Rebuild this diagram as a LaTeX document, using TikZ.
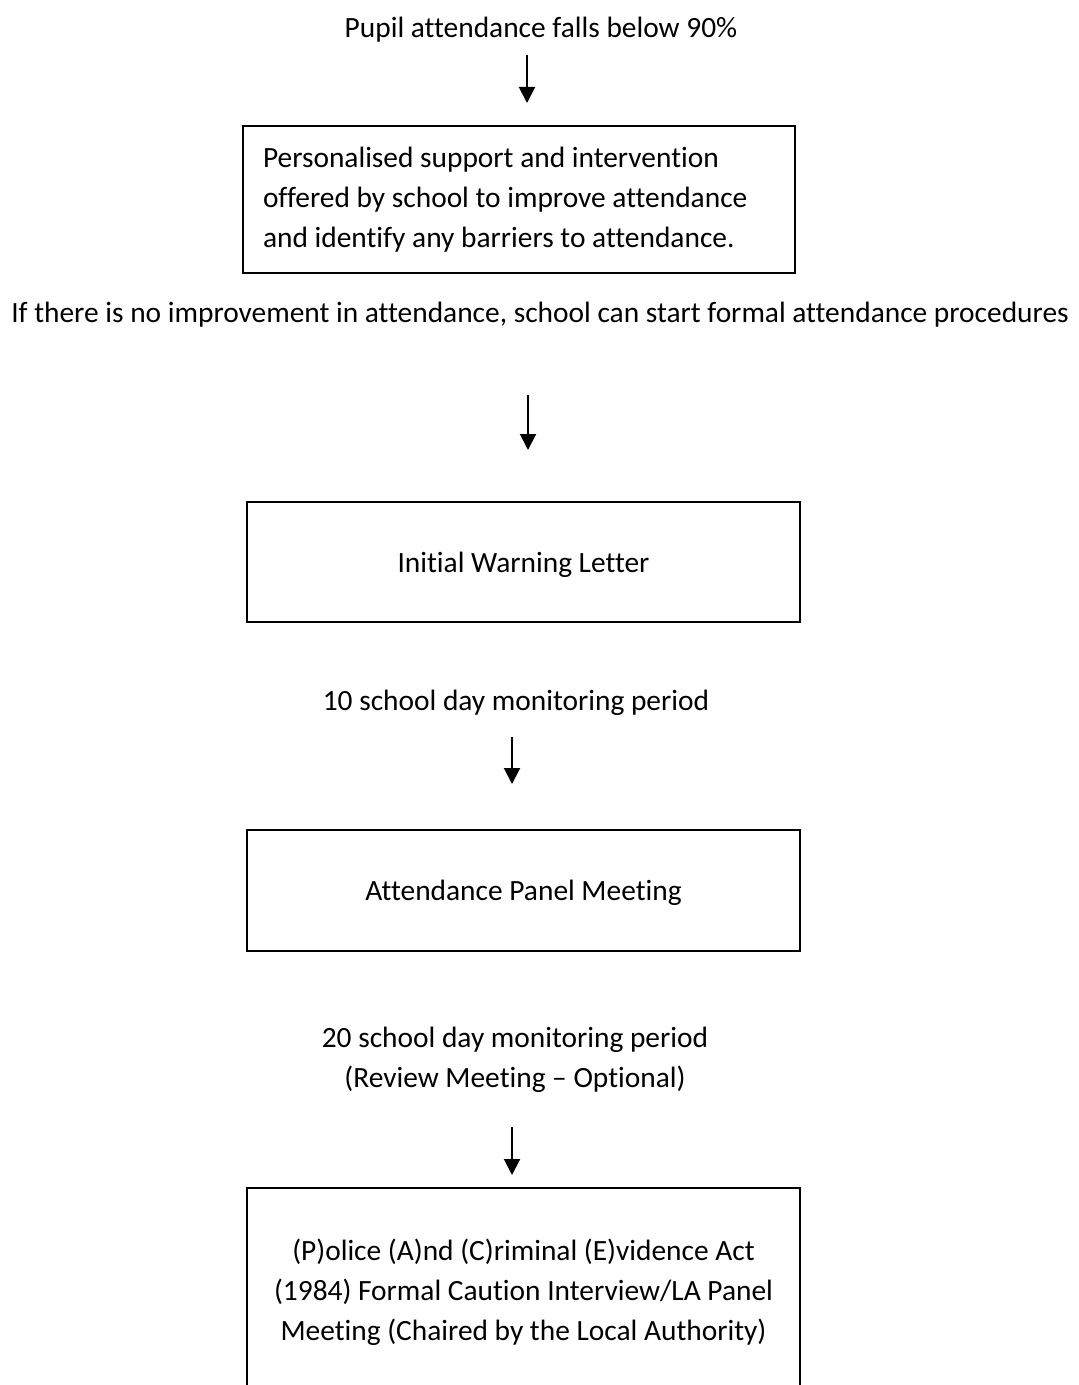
\documentclass[tikz,border=0pt]{standalone}
\usepackage{fontspec}
\setmainfont{Carlito}[Ligatures={TeX,NoCommon}]
\usetikzlibrary{arrows.meta}

\begin{document}
\begin{tikzpicture}[
    x=0.5pt,
    y=-0.5pt,
    font=\fontsize{14.7}{20}\selectfont,
    box/.style={
        draw,
        line width=1pt,
        align=center,
        minimum width=276.5pt,
        inner sep=0pt
    },
    note/.style={align=center, inner sep=0pt, text depth=0pt},
    arrow/.style={-{Triangle[length=8pt,width=8pt]}, line width=1pt}
]

\useasboundingbox (0,0) rectangle (1078,1385);
\clip (0,0) rectangle (1078,1385);

\node[note] (start) at (541,27) {Pupil attendance falls below 90\%};
\coordinate (a1s) at (527,55);
\coordinate (a1e) at (527,103);

\node[box, align=flush left, text width=256pt, minimum width=276pt, minimum height=73.5pt] (support) at (519,200)
{Personalised support and intervention\\offered by school to improve attendance\\and identify any barriers to attendance.};

\node[note] (noimprove) at (540,312)
{If there is no improvement in attendance, school can start formal attendance procedures};
\coordinate (a2s) at (528,395);
\coordinate (a2e) at (528,450);

\node[box, text depth=0pt, minimum height=60pt] (warning) at (523.5,562) {Initial Warning Letter};

\node[note] (tenday) at (516,700) {10 school day monitoring period};
\coordinate (a3s) at (512,737);
\coordinate (a3e) at (512,784);

\node[box, text depth=0pt, minimum height=60.5pt] (panel) at (523.5,890.5) {Attendance Panel Meeting};

\node[note] (twentyday) at (515,1057) {20 school day monitoring period\\(Review Meeting -- Optional)};
\coordinate (a4s) at (512,1127);
\coordinate (a4e) at (512,1175);

% last box runs off the page
\node[box, minimum height=104pt] (pace) at (523.5,1292)
{(P)olice (A)nd (C)riminal (E)vidence Act\\(1984) Formal Caution Interview/LA Panel\\Meeting (Chaired by the Local Authority)};

\draw[arrow] (a1s) -- (a1e);
\draw[arrow] (a2s) -- (a2e);
\draw[arrow] (a3s) -- (a3e);
\draw[arrow] (a4s) -- (a4e);

\end{tikzpicture}
\end{document}
